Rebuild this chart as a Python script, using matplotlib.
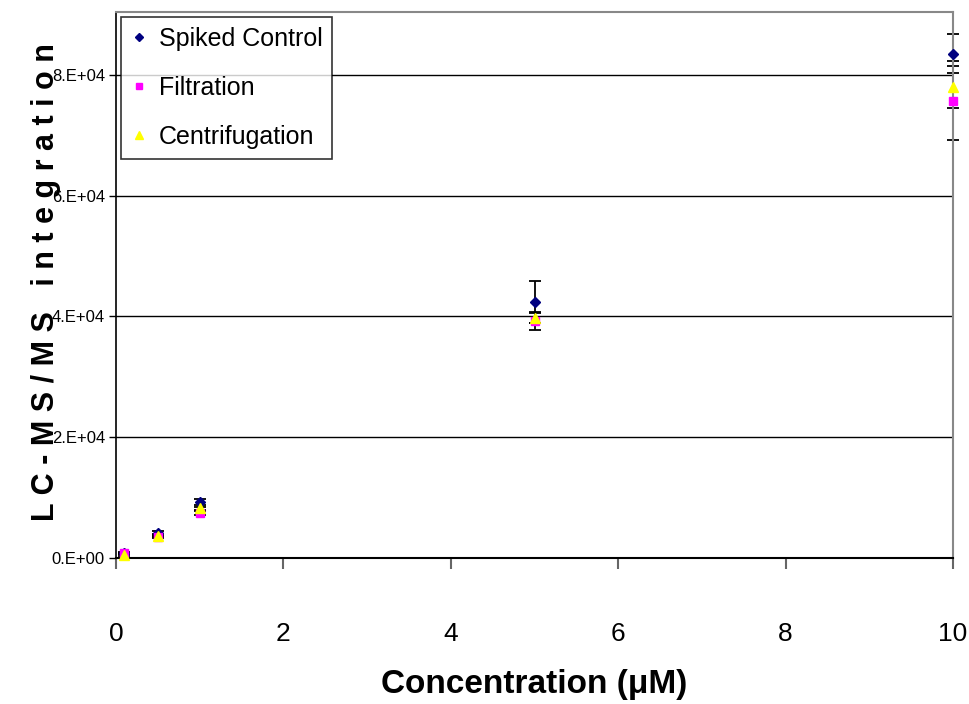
import numpy as np
import matplotlib.pyplot as plt

# concentrations (uM)
conc = [0.1, 0.5, 1, 5, 10]

spiked = [900, 4200, 9300, 42400, 83500]
spiked_err = [150, 300, 500, 3500, 3200]

filtration = [800, 3500, 7400, 39200, 75700]
filtration_err = [100, 200, 300, 1500, 6500]

centrifugation = [500, 3600, 8200, 39700, 78000]
centrifugation_err = [100, 200, 300, 800, 3500]

yticks = [0, 20000, 40000, 60000, 80000]
ytick_labels = ["0.E+00", "2.E+04", "4.E+04", "6.E+04", "8.E+04"]
xticks = [0, 2, 4, 6, 8, 10]

plt.rcParams['font.family'] = ["Liberation Sans", "DejaVu Sans"]

fig = plt.figure(figsize=(9.7, 7.04), dpi=100)
ax = fig.add_axes([0.1196, 0.2074, 0.8629, 0.7756])

err_kw = dict(fmt="none", ecolor="black", elinewidth=1.3, capsize=4, capthick=1.3, zorder=2)
for yv, ye in [(spiked, spiked_err), (filtration, filtration_err), (centrifugation, centrifugation_err)]:
    eb = ax.errorbar(conc, yv, yerr=ye, **err_kw)
    for art in eb.lines[1] + eb.lines[2]:
        art.set_clip_on(False)

ax.plot(conc, spiked, "D", color="#000080", markersize=5.5, label="Spiked Control", zorder=3, clip_on=False)
ax.plot(conc, filtration, "s", color="#FF00FF", markersize=6, label="Filtration", zorder=3, clip_on=False)
ax.plot(conc, centrifugation, "^", color="#FFFF00", markersize=7, label="Centrifugation", zorder=4, clip_on=False)

ax.set_xlim(0, 10)
ax.set_ylim(0, 90400)
ax.set_xticks(xticks)
ax.set_yticks(yticks)
ax.set_yticklabels(ytick_labels)

ax.yaxis.grid(True, color="black", linewidth=1)
ax.set_axisbelow(True)

for s in ["top", "right"]:
    ax.spines[s].set_color("#888888")
    ax.spines[s].set_linewidth(1.5)
ax.spines["left"].set_color("black")
ax.spines["bottom"].set_color("black")
ax.spines["left"].set_linewidth(1.2)
ax.spines["bottom"].set_linewidth(1.5)

ax.tick_params(axis="x", direction="out", length=8, width=1.5, color="#666666",
               labelsize=19, pad=38)
ax.tick_params(axis="y", direction="out", length=5, width=1, color="black",
               labelsize=12, pad=3)

ax.set_xlabel("Concentration (\u03bcM)", fontsize=24, fontweight="bold", labelpad=17)
fig.text(0.047, 0.600, "L C - M S / M S   i n t e g r a t i o n", rotation=90,
         fontsize=22, fontweight="bold", ha="center", va="center")

leg = ax.legend(loc="upper left", bbox_to_anchor=(0.0, 1.0), fontsize=18,
                frameon=True, fancybox=False, edgecolor="black", handlelength=0.6,
                handletextpad=0.5, borderpad=0.4, labelspacing=1.0, markerscale=0.8,
                borderaxespad=0.2)
leg.get_frame().set_linewidth(1.2)

fig.savefig("out.png", dpi=100)
